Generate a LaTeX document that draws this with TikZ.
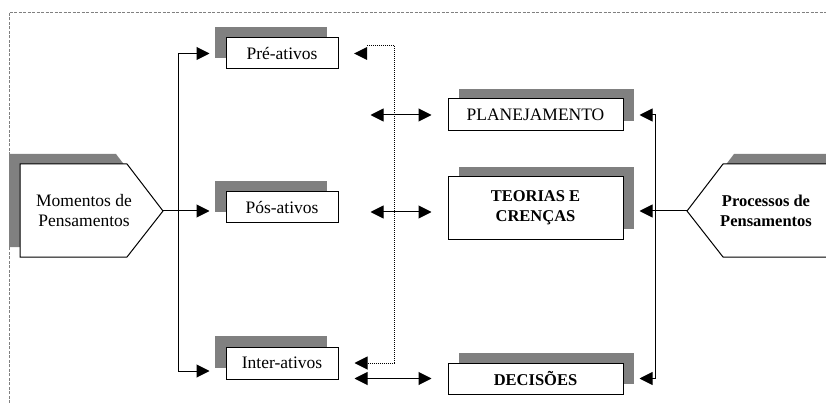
\documentclass[tikz,border=0pt]{standalone}
\usepackage{fontspec}
\setmainfont{Liberation Serif}
\usetikzlibrary{arrows.meta,shadows,calc}
\definecolor{shadowgray}{RGB}{128,128,128}
\begin{document}
\begin{tikzpicture}[x=1pt,y=-1pt,
 txt/.style={font=\fontsize{17.5}{20}\selectfont},
 boldtxt/.style={font=\fontsize{16.5}{20}\selectfont\bfseries},
 box/.style={draw=black, line width=1pt, fill=white, minimum width=112pt, minimum height=31pt, inner sep=0pt, txt},
 lshadow/.style={copy shadow={shadow xshift=-11pt, shadow yshift=11pt, fill=shadowgray, draw=none}},
 rshadow/.style={copy shadow={shadow xshift=11pt, shadow yshift=10pt, fill=shadowgray, draw=none}},
 bigbox/.style={box, minimum width=175pt, rshadow},
 arr/.style={line width=1pt, -{Triangle[length=13pt,width=13pt]}},
 darr/.style={line width=1pt, {Triangle[length=13pt,width=13pt]}-{Triangle[length=13pt,width=13pt]}},
 dotline/.style={line width=1pt, densely dotted},
 outerframe/.style={draw=gray, line width=0.6pt, dash pattern=on 3pt off 1.5pt}
]
\useasboundingbox (0,0) rectangle (826,403);
\draw[outerframe] (9,403) -- (9,12) -- (826,12);

% left pentagon
\fill[shadowgray] (9,154) -- (116,154) -- (152,201) -- (116,247) -- (9,247) -- cycle;
\draw[line width=1pt, fill=white] (20,164) -- (127,164) -- (163,211) -- (127,257) -- (20,257) -- cycle;
\node[txt, align=center] (mom) at (84,211) {Momentos de\\Pensamentos};
\coordinate (mtip) at (163,211);

% right pentagon
\fill[shadowgray] (826,154) -- (734,154) -- (698,201) -- (734,247) -- (826,247) -- cycle;
\fill[white] (826,164) -- (723,164) -- (687,211) -- (723,257) -- (826,257) -- cycle;
\draw[line width=1pt] (826,164) -- (723,164) -- (687,211) -- (723,257) -- (826,257);
\node[boldtxt, align=center] (proc) at (766,211) {Processos de\\Pensamentos};
\coordinate (ptip) at (687,211);

% boxes
\node[box, lshadow] (pre) at (282,53.5) {Pré-ativos};
\node[box, lshadow] (pos) at (282,207.5) {Pós-ativos};
\node[box, lshadow, minimum height=32pt] (inter) at (282,363) {Inter-ativos};
\node[bigbox, minimum height=32pt] (plan) at (535.5,115) {PLANEJAMENTO};
\node[bigbox, minimum height=62pt, align=center, boldtxt] (teor) at (535.5,208) {TEORIAS E\\CRENÇAS};
\node[bigbox, boldtxt] (dec) at (535.5,378.5) {DECISÕES};
\coordinate (teorin) at ([yshift=-4pt]teor.west);

% left bracket
\coordinate (lb) at (178,211);
\draw[arr, shorten >=16pt] (mtip) -- (pos.west |- mtip);
\draw[arr, shorten >=16pt] (lb) |- (pre.west);
\draw[arr, shorten >=16pt] (lb) |- ([yshift=-8pt]inter.west);

% right bracket
\coordinate (rb) at (655,211);
\draw[arr, shorten >=16pt] (ptip) -- (teor.east |- ptip);
\draw[arr, shorten >=16pt] (rb) |- (plan.east);
\draw[arr, shorten >=16pt] (rb) |- (dec.east);

% middle dotted connector
\coordinate (dvtop) at (394,46);
\coordinate (dvend) at (367,46);
\draw[dotline, -{Triangle[length=13pt,width=13pt]}, shorten >=16pt] (dvtop) |- (inter.east);
\draw[dotline] (dvtop) -- (dvend);
\fill (367,47) -- (354,53.5) -- (367,60) -- cycle;

% double arrows
\draw[darr, shorten <=32pt, shorten >=16pt] (pre.east |- plan.west) -- (plan.west);
\draw[darr, shorten <=32pt, shorten >=16pt] (pre.east |- teorin) -- (teorin);
\draw[darr, shorten <=16pt, shorten >=16pt] (inter.east |- dec.west) -- (dec.west);
\end{tikzpicture}
\end{document}
